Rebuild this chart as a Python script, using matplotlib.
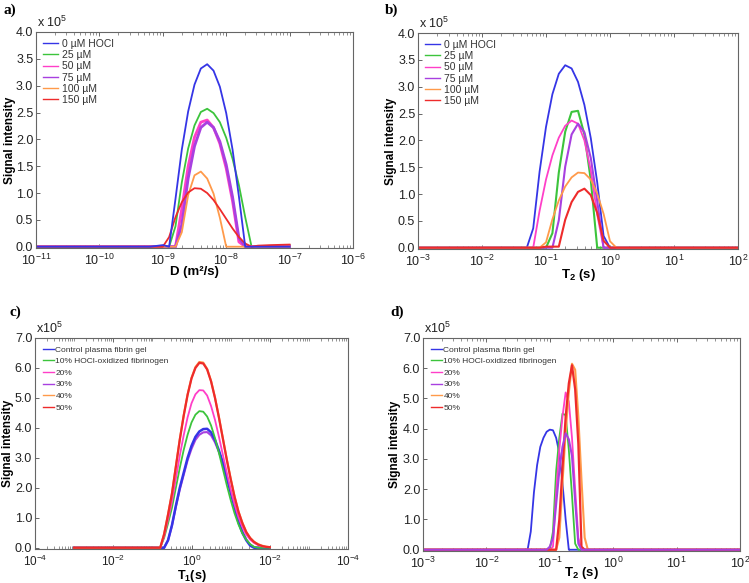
import numpy as np
import matplotlib
matplotlib.use("Agg")
import matplotlib.pyplot as plt
from matplotlib.ticker import LogLocator, NullFormatter, FixedLocator

plt.rcParams["font.family"] = ["Liberation Sans", "DejaVu Sans"]
plt.rcParams["mathtext.fontset"] = "custom"
plt.rcParams["mathtext.rm"] = "Liberation Sans"
plt.rcParams["mathtext.it"] = "Liberation Sans:italic"
plt.rcParams["mathtext.bf"] = "Liberation Sans:bold"
plt.rcParams["mathtext.default"] = "regular"

# Signal intensity in units of 1e5, x positions as log10 of the axis value

# a) diffusion coefficient D (m2/s)
D_LOG = [-11.0, -9.2, -9.0, -8.9, -8.8, -8.7, -8.6, -8.5, -8.4, -8.3,
         -8.2, -8.1, -8.0, -7.9, -7.8, -7.7, -7.6, -7.5, -7.3, -7.0]
A_0 = [0, 0, 0.03, 0, 0.89, 1.81, 2.52, 3.02, 3.32, 3.40,
       3.28, 2.98, 2.49, 1.81, 0.94, 0, 0, 0, 0, 0]
A_25 = [0, 0, 0, 0, 0.38, 1.20, 1.83, 2.26, 2.51, 2.57,
        2.49, 2.32, 2.03, 1.64, 1.15, 0.55, 0, 0, 0, 0]
A_50 = [0, 0, 0, 0, 0, 0.71, 1.50, 2.04, 2.32, 2.36,
        2.22, 1.92, 1.46, 0.85, 0.09, 0, 0, 0, 0, 0]
A_75 = [0, 0, 0, 0, 0, 0.41, 1.27, 1.87, 2.22, 2.32,
        2.22, 1.96, 1.53, 0.93, 0.17, 0, 0, 0, 0, 0]
A_100 = [0, 0, 0, 0, 0, 0.27, 0.96, 1.33, 1.40, 1.27,
         0.99, 0.54, 0, 0, 0, 0, 0, 0, 0, 0]
A_150 = [0, 0, 0, 0.18, 0.55, 0.83, 1.01, 1.09, 1.08, 1.00,
         0.87, 0.70, 0.52, 0.34, 0.18, 0.06, 0, 0.02, 0.03, 0.04]

# b) T2 (s), HOCl series
B_LOG = [-3.0, -1.3, -1.2, -1.1, -1.0, -0.9, -0.8, -0.7, -0.6, -0.5,
         -0.4, -0.3, -0.2, -0.1, 0.0, 0.1, 2.0]
B_0 = [0, 0, 0.36, 1.42, 2.25, 2.86, 3.24, 3.40, 3.34, 3.09,
       2.66, 2.04, 1.22, 0.22, 0, 0, 0]
B_25 = [0, 0, 0, 0, 0, 0.27, 1.40, 2.16, 2.53, 2.55,
        2.11, 1.26, 0, 0, 0, 0, 0]
B_50 = [0, 0, 0, 0.69, 1.27, 1.72, 2.05, 2.27, 2.37, 2.31,
        2.00, 1.44, 0.62, 0, 0, 0, 0]
B_75 = [0, 0, 0, 0, 0, 0, 0.51, 1.51, 2.11, 2.31,
        2.15, 1.67, 0.87, 0, 0, 0, 0]
B_100 = [0, 0, 0, 0, 0.10, 0.53, 0.88, 1.14, 1.31, 1.40,
         1.39, 1.27, 1.01, 0.63, 0.12, 0, 0]
B_150 = [0, 0, 0, 0, 0.02, 0.02, 0.02, 0.52, 0.85, 1.04,
         1.10, 0.98, 0.65, 0.13, 0, 0, 0]

HOCL_LABELS = ["0 µM HOCl", "25 µM", "50 µM", "75 µM", "100 µM", "150 µM"]

# c) T1 (s), oxidized fibrinogen series
C_LOG = [-3.0, -0.8, -0.7, -0.6, -0.5, -0.4, -0.3, -0.2, -0.1, 0.0,
         0.1, 0.2, 0.3, 0.4, 0.5, 0.6, 0.7, 0.8, 0.9, 1.0,
         1.1, 1.2, 1.3, 1.4, 1.5, 1.6, 1.7, 1.8, 1.9, 2.0]
C_CTRL = [0, 0, 0, 0.25, 0.75, 1.4, 2.0, 2.5, 3.0, 3.4,
          3.7, 3.88, 3.96, 3.97, 3.85, 3.6, 3.25, 2.85, 2.35, 1.85,
          1.35, 0.85, 0.5, 0.25, 0.07, 0, 0, 0, 0, 0]
C_10 = [0, 0, 0.33, 0.81, 1.33, 2.0, 2.66, 3.26, 3.77, 4.18,
        4.44, 4.56, 4.54, 4.38, 4.08, 3.66, 3.17, 2.64, 2.1, 1.6,
        1.15, 0.78, 0.48, 0.27, 0.12, 0.03, 0, 0, 0, 0]
C_20 = [0, 0, 0.38, 0.94, 1.54, 2.3, 3.07, 3.75, 4.35, 4.82,
        5.12, 5.26, 5.25, 5.08, 4.73, 4.27, 3.71, 3.11, 2.52, 1.96,
        1.45, 1.02, 0.7, 0.44, 0.27, 0.16, 0.09, 0.05, 0.03, 0.02]
C_30 = [0, 0, 0, 0.24, 0.73, 1.36, 1.94, 2.43, 2.92, 3.3,
        3.6, 3.77, 3.85, 3.86, 3.75, 3.52, 3.2, 2.82, 2.35, 1.86,
        1.38, 0.9, 0.55, 0.28, 0.1, 0.02, 0, 0, 0, 0]
C_40 = [0, 0, 0.46, 1.12, 1.82, 2.72, 3.62, 4.42, 5.12, 5.67,
        6.03, 6.2, 6.18, 5.97, 5.57, 5.02, 4.37, 3.67, 2.97, 2.32,
        1.72, 1.22, 0.84, 0.53, 0.33, 0.2, 0.12, 0.07, 0.04, 0.02]
C_50 = [0, 0, 0.45, 1.1, 1.8, 2.7, 3.6, 4.4, 5.1, 5.65,
        6.0, 6.17, 6.15, 5.95, 5.55, 5.0, 4.35, 3.65, 2.95, 2.3,
        1.7, 1.2, 0.82, 0.52, 0.32, 0.19, 0.11, 0.06, 0.03, 0.02]

# d) T2 (s), oxidized fibrinogen series
D2_LOG = [-3.0, -1.35, -1.30, -1.25, -1.20, -1.15, -1.10, -1.05, -1.00, -0.95,
          -0.90, -0.85, -0.80, -0.75, -0.70, -0.65, -0.60, -0.55, -0.50, -0.45,
          -0.40, 2.0]
D_CTRL = [0, 0, 0.6, 1.9, 2.8, 3.4, 3.7, 3.9, 3.97, 3.95,
          3.7, 3.2, 2.2, 1.0, 0, 0, 0, 0, 0, 0, 0, 0]
D_10 = [0, 0, 0, 0, 0, 0, 0, 0, 0, 0.6,
        2.6, 3.7, 4.5, 4.45, 3.3, 1.8, 0.2, 0, 0, 0, 0, 0]
D_20 = [0, 0, 0, 0, 0, 0, 0, 0, 0, 0.1,
        1.9, 3.3, 4.4, 5.2, 4.9, 3.7, 2.0, 0.4, 0, 0, 0, 0]
D_30 = [0, 0, 0, 0, 0, 0, 0, 0, 0.1, 0.4,
        1.5, 2.6, 3.4, 3.85, 3.65, 3.1, 1.6, 0.2, 0, 0, 0, 0]
D_40 = [0, 0, 0, 0, 0, 0, 0, 0, 0, 0,
        0, 0.4, 2.2, 3.9, 5.2, 6.15, 5.95, 4.4, 2.3, 0.4, 0, 0]
D_50 = [0, 0, 0, 0, 0, 0, 0, 0, 0, 0,
        0, 1.0, 2.7, 4.4, 5.5, 6.1, 5.3, 3.5, 0.1, 0, 0, 0]

FIB_LABELS = ["Control plasma fibrin gel", "10% HOCl-oxidized fibrinogen",
              "20%", "30%", "40%", "50%"]

COLORS = ["#3535e6", "#3cc43c", "#ff3fc8", "#a840e0", "#ff9a4a", "#ee2b2b"]

W, H = 749, 583


def make_axes(fig, left, top, right, bottom):
    """Оси по пиксельным координатам рамки."""
    return fig.add_axes([left / W, 1 - bottom / H, (right - left) / W, (bottom - top) / H])


def style_axes(ax, ymax, ystep, ylab_x, xlab_y):
    ax.set_xscale("log")
    for sp in ax.spines.values():
        sp.set_color("#666666")
        sp.set_linewidth(0.8)
    ax.set_ylim(-ymax * 0.006, ymax)
    ax.set_yticks(np.arange(0, ymax + 0.01, ystep))
    ax.set_yticklabels([f"{v:.1f}" for v in np.arange(0, ymax + 0.01, ystep)])
    ax.tick_params(axis="x", which="both", direction="in", top=True, bottom=True,
                   colors="#666666", labelcolor="#222222", labelsize=9, pad=3.5)
    ax.tick_params(axis="x", which="major", length=3, width=0.7)
    ax.tick_params(axis="x", which="minor", length=2, width=0.5)
    ax.tick_params(axis="y", direction="in", length=3, width=0.7, right=False,
                   colors="#666666", labelcolor="#222222", labelsize=9, pad=2)
    ax.xaxis.set_minor_locator(LogLocator(base=10, subs=np.arange(2, 10), numticks=100))
    ax.xaxis.set_minor_formatter(NullFormatter())
    ax.set_ylabel("Signal intensity", fontsize=8.5, fontweight="bold")
    ax.yaxis.set_label_coords(ylab_x, 0.5)
    ax.xaxis.set_label_coords(0.5, xlab_y)


def draw(ax, xlog, series, labels, widths, order, legend_kw):
    x = 10.0 ** np.array(xlog)
    lines = {}
    for i in order:
        (ln,) = ax.plot(x, series[i], color=COLORS[i], lw=widths[i], label=labels[i])
        lines[i] = ln
    handles = [lines[i] for i in range(len(labels))]
    leg = ax.legend(handles, labels, loc="upper left", frameon=False, **legend_kw)
    for h in leg.legend_handles:
        h.set_linewidth(1.0)
    for t in leg.get_texts():
        t.set_color("#333333")


def main():
    fig = plt.figure(figsize=(W / 100, H / 100), dpi=100)

    hocl_leg = dict(fontsize=7.5, handlelength=1.5, handletextpad=0.35,
                    labelspacing=0.12, borderaxespad=0.3, borderpad=0.35)
    fib_leg = dict(fontsize=6, handlelength=1.3, handletextpad=0.2,
                   labelspacing=0.45, borderaxespad=0.3, borderpad=0.65)

    # a)
    ax = make_axes(fig, 36, 32, 353, 248)
    style_axes(ax, 4.0, 0.5, -0.064, -0.083)
    draw(ax, D_LOG, [A_0, A_25, A_50, A_75, A_100, A_150], HOCL_LABELS,
         [1.3, 1.3, 2.0, 2.0, 1.3, 1.3], [1, 2, 3, 4, 5, 0], hocl_leg)
    ax.set_xlim(1e-11, 1e-6)
    ax.set_xlabel("D (m²/s)", fontsize=9.5, fontweight="bold")
    ax.text(0.003, 1.01, r"x 10$^5$", transform=ax.transAxes, fontsize=9,
            color="#222222", va="bottom")

    # b)
    ax = make_axes(fig, 418, 33, 738, 249)
    style_axes(ax, 4.0, 0.5, -0.066, -0.085)
    draw(ax, B_LOG, [B_0, B_25, B_50, B_75, B_100, B_150], HOCL_LABELS,
         [1.3, 1.5, 1.3, 1.5, 1.3, 1.5], [0, 1, 2, 3, 4, 5], hocl_leg)
    ax.set_xlim(1e-3, 1e2)
    ax.set_xlabel(r"T$_2$ (s)", fontsize=9.5, fontweight="bold")
    ax.text(0.003, 1.01, r"x 10$^5$", transform=ax.transAxes, fontsize=9,
            color="#222222", va="bottom")

    # c)
    ax = make_axes(fig, 35, 338, 348, 549)
    style_axes(ax, 7.0, 1.0, -0.066, -0.09)
    ax.tick_params(axis="x", which="both", labelsize=8.5, pad=3.5)
    draw(ax, C_LOG, [C_CTRL, C_10, C_20, C_30, C_40, C_50], FIB_LABELS,
         [1.8, 1.3, 1.3, 1.5, 1.5, 1.6], [3, 0, 1, 2, 4, 5], fib_leg)
    ax.set_xlim(1e-4, 1e4)
    ax.xaxis.set_major_locator(FixedLocator([1e-4, 1e-2, 1e0, 1e2, 1e4]))
    ax.set_xticklabels([r"10$^{-4}$", r"10$^{-2}$", r"10$^{0}$", r"10$^{-2}$", r"10$^{-4}$"])
    ax.xaxis.set_minor_locator(LogLocator(base=10, subs=np.arange(1, 10), numticks=100))
    ax.set_xlabel(r"T$_1$(s)", fontsize=9, fontweight="bold")
    ax.text(0.003, 1.01, r"x10$^5$", transform=ax.transAxes, fontsize=9,
            color="#222222", va="bottom")

    # d)
    ax = make_axes(fig, 423, 338, 740, 551)
    style_axes(ax, 7.0, 1.0, -0.07, -0.068)
    draw(ax, D2_LOG, [D_CTRL, D_10, D_20, D_30, D_40, D_50], FIB_LABELS,
         [1.3, 1.3, 1.3, 1.5, 1.5, 1.6], [0, 1, 2, 4, 5, 3], fib_leg)
    ax.set_xlim(1e-3, 1e2)
    ax.set_xlabel(r"T$_2$ (s)", fontsize=9.5, fontweight="bold")
    ax.text(0.003, 1.01, r"x10$^5$", transform=ax.transAxes, fontsize=9,
            color="#222222", va="bottom")

    # Подписи панелей
    for txt, x, y in [("a)", 3, 14), ("b)", 385, 14), ("c)", 10, 316), ("d)", 390, 316)]:
        fig.text(x / W, 1 - y / H, txt, fontsize=11, fontweight="bold",
                 family="Liberation Serif")

    fig.savefig("out.png", dpi=100)


if __name__ == "__main__":
    main()
